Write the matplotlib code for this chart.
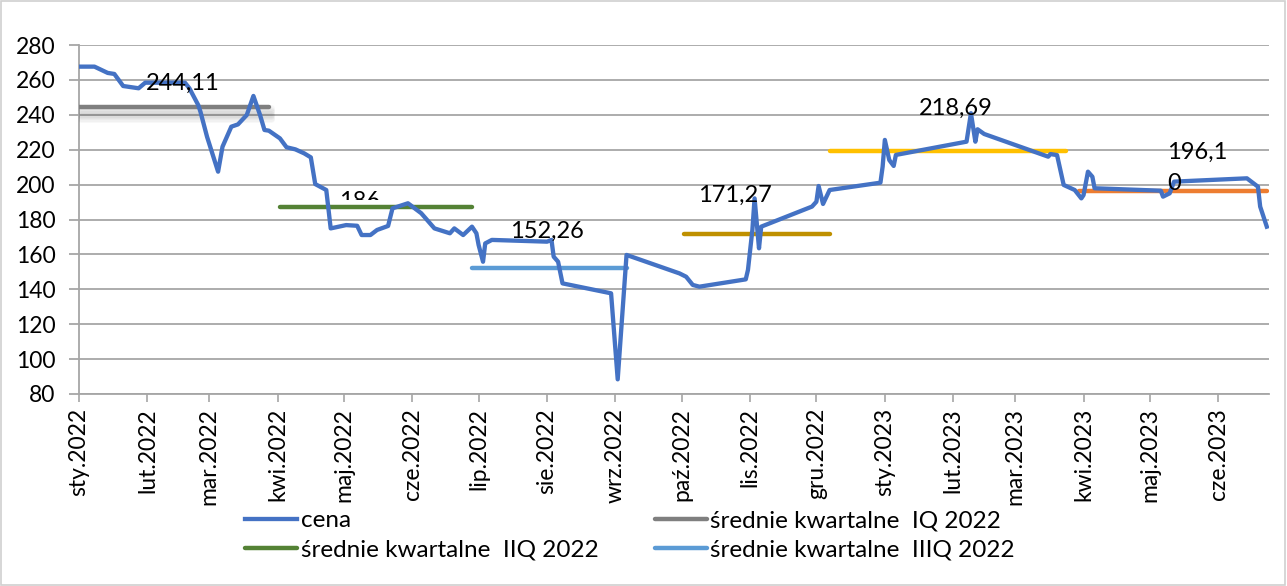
import matplotlib
matplotlib.use("Agg")
import matplotlib.pyplot as plt
import matplotlib.transforms as mtransforms
import matplotlib.dates as mdates
from matplotlib.patches import Rectangle
import pandas as pd

plt.rcParams['font.family'] = ['Lato', 'DejaVu Sans']

# ---- data ----
price_dates = [
    "2022-01-01", "2022-01-08", "2022-01-14", "2022-01-17", "2022-01-21", "2022-01-28",
    "2022-01-31", "2022-02-18", "2022-02-20", "2022-02-24", "2022-02-25", "2022-02-28",
    "2022-03-05", "2022-03-07", "2022-03-11", "2022-03-14", "2022-03-18", "2022-03-21",
    "2022-03-24", "2022-03-26", "2022-03-28", "2022-04-02", "2022-04-05", "2022-04-09",
    "2022-04-13", "2022-04-16", "2022-04-18", "2022-04-23", "2022-04-25", "2022-05-02",
    "2022-05-07", "2022-05-09", "2022-05-13", "2022-05-16", "2022-05-21", "2022-05-23",
    "2022-05-30", "2022-06-05", "2022-06-11", "2022-06-18", "2022-06-20", "2022-06-24",
    "2022-06-28", "2022-06-30", "2022-07-01", "2022-07-03", "2022-07-04", "2022-07-07",
    "2022-08-01", "2022-08-03", "2022-08-04", "2022-08-06", "2022-08-08", "2022-08-30",
    "2022-09-02", "2022-09-06", "2022-09-30", "2022-10-03", "2022-10-06", "2022-10-09",
    "2022-10-30", "2022-10-31", "2022-11-02", "2022-11-03", "2022-11-05", "2022-11-06",
    "2022-11-29", "2022-12-01", "2022-12-02", "2022-12-04", "2022-12-07", "2022-12-30",
    "2022-12-31", "2023-01-01", "2023-01-03", "2023-01-05", "2023-01-06", "2023-02-07",
    "2023-02-09", "2023-02-11", "2023-02-12", "2023-02-15", "2023-03-16", "2023-03-17",
    "2023-03-20", "2023-03-23", "2023-03-28", "2023-03-31", "2023-04-01", "2023-04-03",
    "2023-04-05", "2023-04-06", "2023-05-06", "2023-05-07", "2023-05-10", "2023-05-12",
    "2023-06-14", "2023-06-19", "2023-06-20", "2023-06-23",
]
price_values = [
    267.6, 267.6, 264.0, 263.4, 256.5, 255.2,
    258.4, 258.4, 255.2, 245.6, 241.8, 227.4,
    207.4, 221.7, 233.2, 234.5, 239.9, 250.8,
    239.9, 231.3, 230.9, 226.5, 221.4, 220.2,
    217.9, 215.6, 200.3, 196.9, 174.9, 176.8,
    176.4, 171.1, 171.1, 174.0, 176.3, 186.4,
    189.3, 183.6, 174.9, 172.1, 174.9, 171.1,
    175.9, 172.1, 165.4, 155.8, 166.3, 168.3,
    167.3, 168.3, 158.7, 155.8, 143.4, 137.7,
    88.4, 159.7, 149.1, 147.2, 142.5, 141.5,
    145.7, 151.1, 174.0, 192.1, 163.5, 175.9,
    187.4, 190.2, 199.2, 188.9, 196.9, 201.1,
    210.3, 225.6, 214.1, 210.7, 217.0, 224.6,
    240.9, 224.6, 231.7, 229.0, 216.0, 217.5,
    216.9, 199.8, 196.9, 192.1, 194.0, 207.4,
    204.5, 197.9, 196.5, 193.1, 195.0, 201.7,
    203.6, 198.8, 187.4, 175.9,
]

avg_names = ["średnie kwartalne  IQ 2022", "średnie kwartalne  IIQ 2022",
             "średnie kwartalne  IIIQ 2022", "średnie kwartalne  IVQ 2022",
             "średnie kwartalne  IQ 2023", "średnie kwartalne  IIQ 2023"]
avg_start = ["2022-01-01", "2022-04-02", "2022-06-28", "2022-10-02", "2022-12-07", "2023-03-30"]
avg_end = ["2022-03-28", "2022-06-28", "2022-09-06", "2022-12-07", "2023-03-24", "2023-06-23"]
avg_values = [244.6, 187.3, 152.26, 171.5, 219.0, 196.4]
avg_colors = ["#7f7f7f", "#548235", "#5b9bd5", "#bf9000", "#ffc000", "#ed7d31"]

label_texts = ["244,11", "186", "152,26", "171,27", "218,69", "196,1\n0"]
label_dates = ["2022-02-17", "2022-05-08", "2022-08-01", "2022-10-25", "2023-02-02", "2023-05-09"]
label_y = [258.0, 190.2, 173.0, 193.9, 243.9, 209.6]
label_ha = ["center", "center", "center", "center", "center", "left"]

month_ticks = pd.date_range("2022-01-01", "2023-06-01", freq="MS")
month_labels = ["sty.2022", "lut.2022", "mar.2022", "kwi.2022", "maj.2022", "cze.2022",
                "lip.2022", "sie.2022", "wrz.2022", "paź.2022", "lis.2022", "gru.2022",
                "sty.2023", "lut.2023", "mar.2023", "kwi.2023", "maj.2023", "cze.2023"]
y_ticks = [80, 100, 120, 140, 160, 180, 200, 220, 240, 260, 280]

# ---- figure ----
W, H = 1287, 586
fig = plt.figure(figsize=(W / 100, H / 100), dpi=100)
ax = fig.add_axes([79 / W, 1 - 394 / H, (1269 - 79) / W, (394 - 45) / H])

pd_dates = pd.to_datetime(price_dates)
ax.set_xlim(pd.Timestamp("2022-01-01"), pd.Timestamp("2023-06-24"))
ax.set_ylim(80, 280)

ax.set_yticks(y_ticks)
ax.yaxis.grid(True, color="#a6a6a6", linewidth=1.3, zorder=0)
ax.set_axisbelow(True)

# quarterly averages
avg_lines = []
for i, (n, s, e, v, c) in enumerate(zip(avg_names, avg_start, avg_end, avg_values, avg_colors)):
    xs = pd.to_datetime([s, e])
    if i == 0:
        # soft shadow under the IQ 2022 line
        for k in range(1, 10):
            tr = mtransforms.offset_copy(ax.transData, fig=fig, x=1.5, y=-1.0 * k, units="points")
            ax.plot(xs, [v, v], color="#000000", alpha=0.028, linewidth=5, transform=tr,
                    solid_capstyle="round", zorder=4)
    ln, = ax.plot(xs, [v, v], color=c, linewidth=3.2, solid_capstyle="round", zorder=5, label=n)
    avg_lines.append(ln)

price_line, = ax.plot(pd_dates, price_values, color="#4472c4", linewidth=3.1,
                      solid_joinstyle="round", zorder=6, label="cena")

# data labels
for t, d, y, ha in zip(label_texts, label_dates, label_y, label_ha):
    z = 3 if t == "186" else 7
    ax.text(pd.Timestamp(d), y, t, ha=ha, va="center", fontsize=17, color="black",
            zorder=z, linespacing=1.55)

# mask partially hiding the "186" label
mx0 = mdates.date2num(pd.Timestamp("2022-05-01"))
mx1 = mdates.date2num(pd.Timestamp("2022-05-19"))
ax.add_patch(Rectangle((mx0, 181.0), mx1 - mx0, 10.0,
                       facecolor="white", edgecolor="none", zorder=4))

# axes styling
for s in ["top", "right"]:
    ax.spines[s].set_visible(False)
for s in ["left", "bottom"]:
    ax.spines[s].set_color("#a6a6a6")
    ax.spines[s].set_linewidth(1.3)
ax.set_xticks(month_ticks)
ax.set_xticklabels(month_labels, rotation=90, fontsize=16.5)
ax.tick_params(axis="x", direction="out", length=6, width=1.2, color="#a6a6a6", pad=4)
ax.tick_params(axis="y", direction="out", length=7, width=1.3, color="#a6a6a6", pad=10, labelsize=16.5)

# legend
handles = [price_line, avg_lines[1], avg_lines[0], avg_lines[2]]
labels = ["cena", avg_names[1], avg_names[0], avg_names[2]]
fig.legend(handles, labels, ncol=2, loc="upper left", bbox_to_anchor=(245 / W, 1 - 510 / H),
           frameon=False, fontsize=17.5, handlelength=2.15, handletextpad=0.15,
           columnspacing=2.3, labelspacing=0.33, borderpad=0, borderaxespad=0)

# outer frame
fig.patches.append(Rectangle((0.0005, 0.001), 0.998, 0.997, transform=fig.transFigure,
                             fill=False, edgecolor="#d0d0d0", linewidth=1.2))

fig.savefig("out.png", dpi=100)
